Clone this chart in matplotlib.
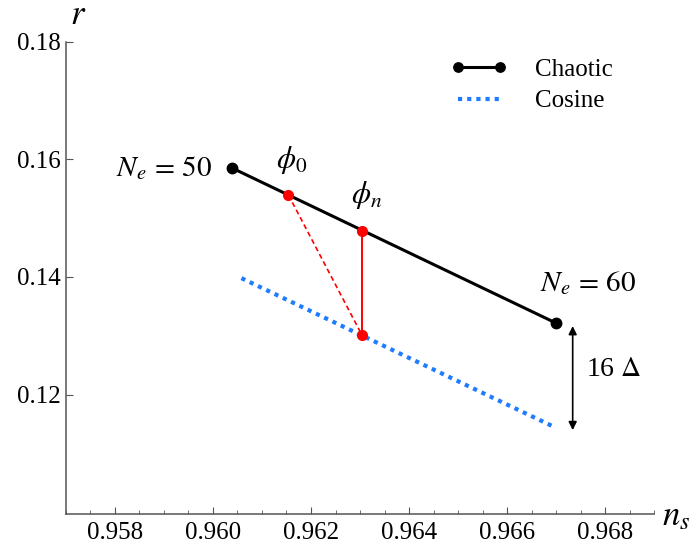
import numpy as np
import matplotlib
matplotlib.use("Agg")
import matplotlib.pyplot as plt
from matplotlib.ticker import MultipleLocator, FixedLocator

plt.rcParams["font.family"] = ["Liberation Serif", "DejaVu Serif"]
plt.rcParams["mathtext.fontset"] = "stix"

# data
chaotic_ns = [0.96039, 0.96700]
chaotic_r = [0.15852, 0.13216]
cosine_ns = [0.96058, 0.96697]
cosine_r = [0.13980, 0.11447]
phi0 = (0.96154, 0.15393)
phin = (0.96304, 0.14781)
phin_cos = (0.96304, 0.13012)
gap_ns = 0.96734
gap_r = (0.13165, 0.11396)
r_ticks = [0.12, 0.14, 0.16, 0.18]

fig = plt.figure(figsize=(6.96, 5.43), dpi=100)
ax = fig.add_axes([0.0948, 0.0534, 0.8449, 0.8698])

ax.plot(cosine_ns, cosine_r, color="#1f7bff", lw=3.0, ls=(0, (1, 1.2)), label="Cosine", zorder=2)
ax.plot(chaotic_ns, chaotic_r, color="black", lw=2.2, marker="o", ms=7.5, label="Chaotic", zorder=3)

# red construction lines
ax.plot([phi0[0], phin_cos[0]], [phi0[1], phin_cos[1]], color="red", lw=1.2, ls=(0, (3, 2)), zorder=4)
ax.plot([phin[0], phin_cos[0]], [phin[1], phin_cos[1]], color="red", lw=1.4, zorder=4)
ax.plot([phi0[0], phin[0], phin_cos[0]], [phi0[1], phin[1], phin_cos[1]], ls="none",
        marker="o", ms=7, color="red", zorder=5)

# 16 Delta arrow
ax.annotate("", xy=(gap_ns, gap_r[0]), xytext=(gap_ns, gap_r[1]),
            arrowprops=dict(arrowstyle="<|-|>", color="black", lw=1.2, mutation_scale=12,
                            shrinkA=0, shrinkB=0))
ax.text(0.96762, 0.12424, r"16 $\Delta$", fontsize=20, va="center", ha="left")

ax.text(0.95998, 0.15852, r"$N_e\,=\,50$", fontsize=21, va="center", ha="right")
ax.text(0.96668, 0.13901, r"$N_e\,=\,60$", fontsize=21, va="center", ha="left")
ax.text(0.96160, 0.15989, r"$\phi_0$", fontsize=22, va="center", ha="center")
ax.text(0.96314, 0.15389, r"$\phi_n$", fontsize=22, va="center", ha="center")

ax.set_xlim(0.957, 0.969)
ax.set_ylim(0.0997, 0.18)
ax.xaxis.set_major_locator(MultipleLocator(0.002))
ax.xaxis.set_minor_locator(MultipleLocator(0.0005))
ax.yaxis.set_major_locator(FixedLocator(r_ticks))
ax.xaxis.set_major_formatter(plt.FuncFormatter(lambda v, p: f"{v:.3f}"))
ax.yaxis.set_major_formatter(plt.FuncFormatter(lambda v, p: f"{v:.2f}"))

for s in ["top", "right"]:
    ax.spines[s].set_visible(False)
for s in ["left", "bottom"]:
    ax.spines[s].set_color("#555555")
    ax.spines[s].set_linewidth(1.1)
ax.tick_params(which="both", direction="in", color="#555555", labelsize=18)
ax.tick_params(which="major", length=5)
ax.tick_params(which="minor", length=3)
ax.tick_params(axis="x", pad=6)
ax.tick_params(axis="y", pad=4)

fig.text(78 / 696, 1 - 15 / 543, r"$r$", fontsize=25, ha="center", va="center")
fig.text(676 / 696, 1 - 517 / 543, r"$n_s$", fontsize=25, ha="center", va="center")

h, l = ax.get_legend_handles_labels()
ax.legend(h[::-1], l[::-1], loc="upper left", bbox_to_anchor=(0.615, 1.012), frameon=False,
          fontsize=18, numpoints=2, markerscale=0.9, handlelength=2.3, labelspacing=0.35,
          handletextpad=1.1)

fig.savefig("out.png", dpi=100)
